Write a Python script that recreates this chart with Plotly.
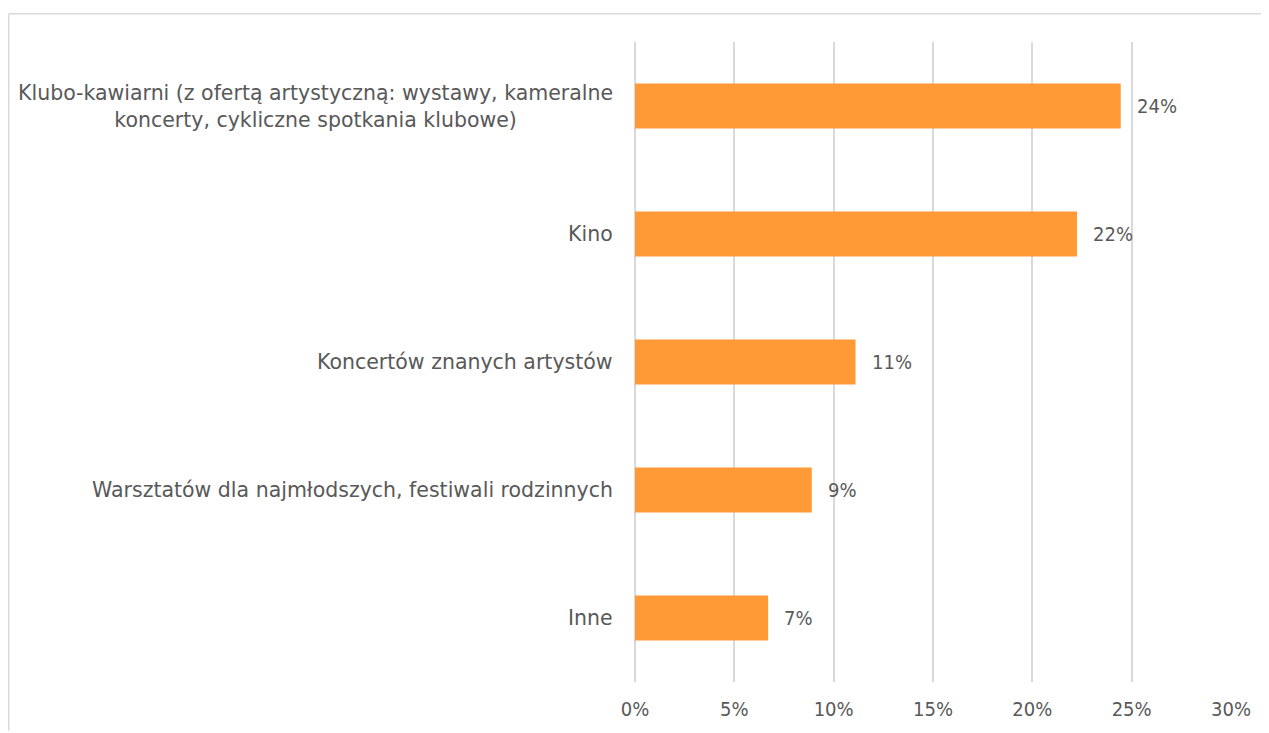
import plotly.graph_objects as go

categories = [
    "Klubo-kawiarni (z ofertą artystyczną: wystawy, kameralne<br>koncerty, cykliczne spotkania klubowe)",
    "Kino",
    "Koncertów znanych artystów",
    "Warsztatów dla najmłodszych, festiwali rodzinnych",
    "Inne",
]
values = [24.45, 22.25, 11.1, 8.9, 6.7]
value_labels = ["24%", "22%", "11%", "9%", "7%"]
tick_vals = [0, 5, 10, 15, 20, 25, 30]
tick_text = ["0%", "5%", "10%", "15%", "20%", "25%", "30%"]

FONT = "DejaVu Sans"
NUMFONT = "DejaVu Sans Condensed"
TXT = "#595959"
GRID = "#d9d9d9"

fig = go.Figure()
fig.add_trace(go.Bar(
    x=values, y=list(range(len(categories))), orientation="h",
    marker=dict(color="#FF9A36", line=dict(width=0)),
    hoverinfo="skip",
))

annotations = []
for i, (cat, v, lab) in enumerate(zip(categories, values, value_labels)):
    annotations.append(dict(
        x=0, y=i, xref="x", yref="y", text=cat, showarrow=False,
        xanchor="right", yanchor="middle", align="center", xshift=-20,
        font=dict(family=FONT, size=20.5, color=TXT),
    ))
    annotations.append(dict(
        x=v, y=i, xref="x", yref="y", text=lab, showarrow=False,
        xanchor="left", yanchor="middle", xshift=14,
        font=dict(family=NUMFONT, size=20, color=TXT),
    ))

# page has an 8px body margin: figure occupies page x 8..1269, y 8..733
OFF = 8
W, H = 1269 - OFF, 733 - OFF
L, R, T, B = 635 - OFF, 38, 42 - OFF, 48
pw, ph = W - L - R, H - T - B

def px_x(px):
    return (px - OFF - L) / pw

def px_y(py):
    return (H - B - (py - OFF)) / ph

shapes = [
    dict(type="line", xref="paper", yref="paper",
         x0=px_x(8.7), x1=px_x(1270), y0=px_y(13.7), y1=px_y(13.7),
         line=dict(color=GRID, width=1.5)),
    dict(type="line", xref="paper", yref="paper",
         x0=px_x(8.7), x1=px_x(8.7), y0=px_y(13.7), y1=px_y(734),
         line=dict(color=GRID, width=1.5)),
]

fig.update_layout(
    width=W, height=H,
    margin=dict(l=L, r=R, t=T, b=B, pad=0),
    paper_bgcolor="white", plot_bgcolor="white",
    showlegend=False,
    bargap=0.65,
    font=dict(family=FONT, size=17, color=TXT),
    annotations=annotations,
    shapes=shapes,
    xaxis=dict(
        range=[0, 30], tickvals=tick_vals, ticktext=tick_text,
        showgrid=True, gridcolor=GRID, gridwidth=1.5,
        zeroline=True, zerolinecolor=GRID, zerolinewidth=1.5,
        showline=False, ticks="", ticklabelstandoff=13,
        tickfont=dict(family=NUMFONT, size=20, color=TXT),
        fixedrange=True,
    ),
    yaxis=dict(
        range=[len(categories) - 0.5, -0.5],
        showticklabels=False, showgrid=False, zeroline=False,
        showline=False, ticks="", fixedrange=True,
    ),
)

fig.write_html("out.html")
